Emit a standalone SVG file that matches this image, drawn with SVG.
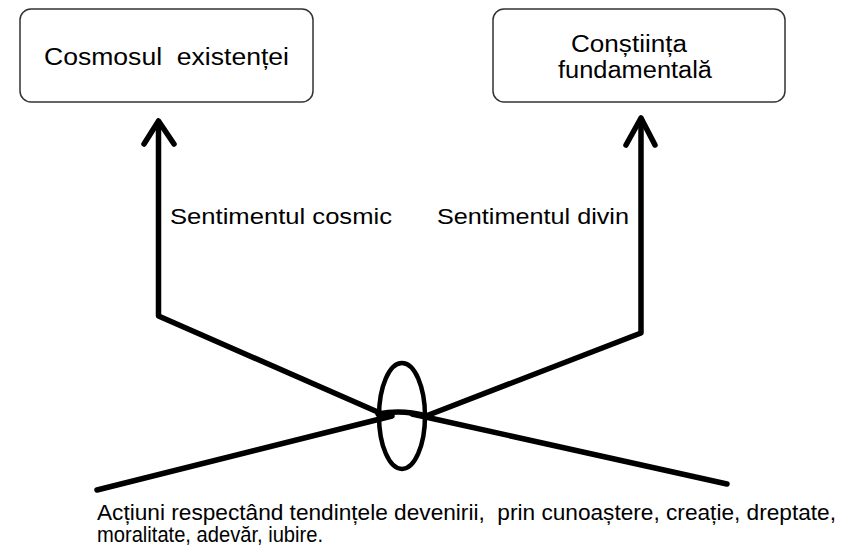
<svg xmlns="http://www.w3.org/2000/svg" width="861" height="558" viewBox="0 0 861 558">
  <style>
    .box { fill: #ffffff; stroke: #333333; stroke-width: 1.5; }
    .t { font-family: "Liberation Sans", Arial, sans-serif; fill: #000000; }
    .con { fill: none; stroke: #000000; stroke-width: 5.5; stroke-linecap: round; stroke-linejoin: round; }
  </style>
  <rect x="0" y="0" width="861" height="558" fill="#ffffff"/>
  <g id="node-cosmos">
    <rect class="box" x="20" y="9" width="293" height="93" rx="11"/>
    <text class="t" x="44" y="64.5" font-size="23" textLength="245" lengthAdjust="spacingAndGlyphs" xml:space="preserve">Cosmosul  existenței</text>
  </g>
  <g id="node-constiinta">
    <rect class="box" x="493" y="9" width="292" height="93" rx="11"/>
    <text class="t" x="571" y="52.3" font-size="23" textLength="116" lengthAdjust="spacingAndGlyphs">Conștiința</text>
    <text class="t" x="558" y="78.3" font-size="23" textLength="154" lengthAdjust="spacingAndGlyphs">fundamentală</text>
  </g>
  <g id="connectors">
    <path class="con" d="M158.5,122 V316 L380,413"/>
    <path class="con" d="M144,144 L158.5,121 L174,144"/>
    <path class="con" d="M641,119 V333 L426,416"/>
    <path class="con" d="M626,145 L641,118 L655,145"/>
    <path class="con" d="M378,414 Q402,409 426,416"/>
    <path class="con" d="M97,490 L392,416"/>
    <path class="con" d="M727,484 L412,414"/>
    <ellipse cx="402" cy="416" rx="23" ry="53" fill="none" stroke="#000000" stroke-width="4.5"/>
  </g>
  <g id="labels">
    <text class="t" x="170" y="224" font-size="22" textLength="222" lengthAdjust="spacingAndGlyphs">Sentimentul cosmic</text>
    <text class="t" x="437" y="224" font-size="22" textLength="192" lengthAdjust="spacingAndGlyphs">Sentimentul divin</text>
  </g>
  <g id="caption">
    <text class="t" x="97" y="520" font-size="21.5" textLength="739" lengthAdjust="spacingAndGlyphs" xml:space="preserve">Acțiuni respectând tendințele devenirii,  prin cunoaștere, creație, dreptate,</text>
    <text class="t" x="97" y="542" font-size="21.5" textLength="226" lengthAdjust="spacingAndGlyphs">moralitate, adevăr, iubire.</text>
  </g>
</svg>
